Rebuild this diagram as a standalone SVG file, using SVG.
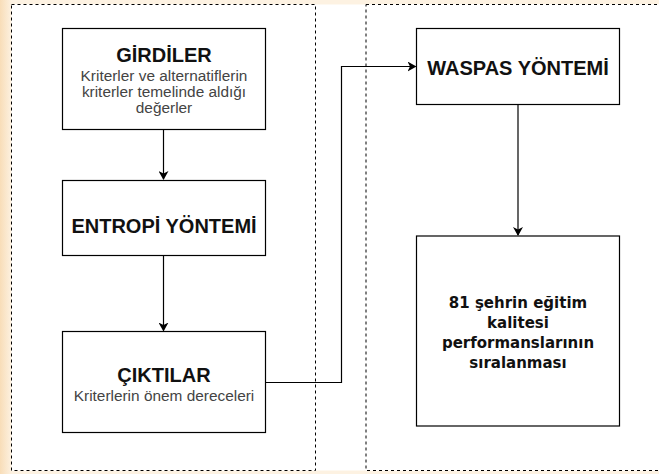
<svg xmlns="http://www.w3.org/2000/svg" width="659" height="474" viewBox="0 0 659 474">
  <defs>
    <linearGradient id="bgL" x1="0" y1="0" x2="1" y2="0">
      <stop offset="0" stop-color="#F8DDB8"/>
      <stop offset="1" stop-color="#FDF2E2"/>
    </linearGradient>
    <marker id="arr" markerWidth="10" markerHeight="10" refX="8" refY="5" orient="auto" markerUnits="userSpaceOnUse">
      <path d="M0,0 L9,5 L0,10 L2.5,5 Z" fill="#000"/>
    </marker>
    <style>
      .container { fill: #FFFFFF; stroke: #000; stroke-width: 1; stroke-dasharray: 3 3; }
      .box { fill: #FFFFFF; stroke: #000; stroke-width: 1.2; }
      .title { font-family: "Liberation Sans", Arial, sans-serif; font-weight: bold; font-size: 20px; fill: #111; text-anchor: middle; }
      .sub { font-family: "Liberation Sans", Arial, sans-serif; font-size: 15.4px; fill: #444; text-anchor: middle; }
      .res { font-family: "DejaVu Sans", Verdana, sans-serif; font-weight: bold; font-size: 15px; fill: #111; text-anchor: middle; }
      .edge { fill: none; stroke: #000; stroke-width: 1.2; }
    </style>
  </defs>
  <rect x="0" y="0" width="659" height="474" fill="#FDF2E2"/>
  <rect x="0" y="0" width="12" height="474" fill="url(#bgL)"/>
  <rect x="12" y="4.5" width="647" height="466" fill="#FFFFFF"/>

  <g id="containers">
    <rect class="container" x="11.5" y="4.5" width="304" height="466"/>
    <rect class="container" x="366" y="4.5" width="300" height="466"/>
  </g>

  <g id="connectors">
    <line class="edge" x1="163.5" y1="129.5" x2="163.5" y2="179" marker-end="url(#arr)"/>
    <line class="edge" x1="163.5" y1="255.5" x2="163.5" y2="330.5" marker-end="url(#arr)"/>
    <polyline class="edge" points="265.5,382.5 341.5,382.5 341.5,66.5 415.5,66.5" marker-end="url(#arr)"/>
    <line class="edge" x1="518" y1="104.5" x2="518" y2="235" marker-end="url(#arr)"/>
  </g>

  <g id="girdiler">
    <rect class="box" x="62.5" y="28.5" width="203" height="101"/>
    <text class="title" x="164" y="62">GİRDİLER</text>
    <text class="sub" x="164" y="81">Kriterler ve alternatiflerin</text>
    <text class="sub" x="164" y="97">kriterler temelinde aldığı</text>
    <text class="sub" x="164" y="113">değerler</text>
  </g>

  <g id="entropi">
    <rect class="box" x="62.5" y="180.5" width="203" height="75"/>
    <text class="title" x="164" y="233">ENTROPİ YÖNTEMİ</text>
  </g>

  <g id="ciktilar">
    <rect class="box" x="62.5" y="331.5" width="203" height="101"/>
    <text class="title" x="164" y="381.5">ÇIKTILAR</text>
    <text class="sub" x="164" y="401">Kriterlerin önem dereceleri</text>
  </g>

  <g id="waspas">
    <rect class="box" x="416.5" y="28.5" width="203" height="76"/>
    <text class="title" x="518" y="74.5">WASPAS YÖNTEMİ</text>
  </g>

  <g id="siralama">
    <rect class="box" x="416.5" y="236" width="203" height="190"/>
    <text class="res" x="518" y="308">81 şehrin eğitim</text>
    <text class="res" x="518" y="328">kalitesi</text>
    <text class="res" x="518" y="348">performanslarının</text>
    <text class="res" x="518" y="368">sıralanması</text>
  </g>
</svg>
